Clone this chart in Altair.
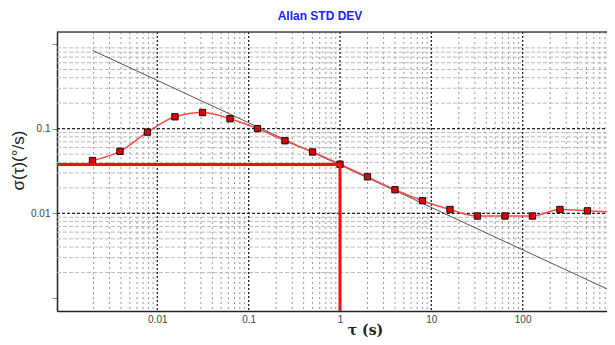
import altair as alt
import pandas as pd

# ---- data ----
tau = [0.00195, 0.0039, 0.0078, 0.0156, 0.03125, 0.0625, 0.125, 0.25, 0.5, 1,
       2, 4, 8, 16, 32, 64, 128, 256, 512, 1024]
sigma = [0.042, 0.054, 0.091, 0.138, 0.155, 0.131, 0.100, 0.072, 0.053, 0.038,
         0.027, 0.019, 0.0141, 0.0111, 0.0093, 0.0093, 0.0093, 0.0111, 0.0107, 0.0103]

arw_tau = [0.00195, 1024]
arw_sigma = [0.84, 0.00116]

cross_tau = 1.0
cross_sigma = 0.0378

x_major = [0.001, 0.01, 0.1, 1, 10, 100, 1000]
x_minor = [m * 10.0 ** e for e in range(-3, 3) for m in range(2, 10)]
y_major = [0.001, 0.01, 0.1, 1]
y_minor = [m * 10.0 ** e for e in range(-3, 0) for m in range(2, 10)]

W, H = 550, 279
XMIN, XMAX = 0.000797, 838.6
YMIN, YMAX = 0.000703, 1.384

xs = alt.Scale(type="log", domain=[XMIN, XMAX], nice=False)
ys = alt.Scale(type="log", domain=[YMIN, YMAX], nice=False)

xaxis = alt.Axis(values=x_major, grid=False, ticks=False,
                 labelExpr="datum.value < 0.005 ? '' : format(datum.value, '~g')",
                 labelFont="Liberation Sans", labelFontSize=10, labelColor="#444",
                 labelPadding=3, domainColor="#222", domainWidth=1.5,
                 title="τ (s)", titleFont="DejaVu Serif", titleFontSize=14,
                 titleFontWeight="bold", titleColor="#222", titleX=308, titleY=12)
yaxis = alt.Axis(values=y_major, grid=False, tickSize=5, tickColor="#888",
                 labelExpr="(datum.value > 0.005 && datum.value < 0.5) ? format(datum.value, '~g') : ''",
                 labelFont="Liberation Sans", labelFontSize=10, labelColor="#444",
                 labelPadding=2, domainColor="#222", domainWidth=1.5,
                 title="σ(τ)(°/s)", titleFont="Liberation Sans", titleFontSize=17,
                 titleFontWeight="normal", titleColor="#222",
                 titleX=-34, titleY=128, titleBaseline="alphabetic")

X = lambda f: alt.X(f, type="quantitative", scale=xs, axis=xaxis)
Y = lambda f: alt.Y(f, type="quantitative", scale=ys, axis=yaxis)

pts = pd.DataFrame({"tau": tau, "sigma": sigma})
arw = pd.DataFrame({"tau": arw_tau, "sigma": arw_sigma})

vmin = alt.Chart(pd.DataFrame({"tau": x_minor})).mark_rule(
    color="#999", strokeWidth=1, strokeDash=[2, 3]).encode(
    x=X("tau"), y=alt.value(0), y2=alt.value(H))
vmaj = alt.Chart(pd.DataFrame({"tau": x_major[1:6]})).mark_rule(
    color="#222", strokeWidth=1.3, strokeDash=[2, 2]).encode(
    x=X("tau"), y=alt.value(0), y2=alt.value(H))
hmin = alt.Chart(pd.DataFrame({"sigma": y_minor})).mark_rule(
    color="#bbb", strokeWidth=1, strokeDash=[4, 2]).encode(
    y=Y("sigma"), x=alt.value(0), x2=alt.value(W))
hmaj = alt.Chart(pd.DataFrame({"sigma": y_major[1:3]})).mark_rule(
    color="#222", strokeWidth=1.3, strokeDash=[3, 2]).encode(
    y=Y("sigma"), x=alt.value(0), x2=alt.value(W))

arw_line = alt.Chart(arw).mark_line(color="#555", strokeWidth=1).encode(
    x=X("tau"), y=Y("sigma"))
curve = alt.Chart(pts).mark_line(color="#ff4a4a", strokeWidth=1.5,
                                 interpolate="monotone").encode(
    x=X("tau"), y=Y("sigma"))
squares = alt.Chart(pts).mark_square(color="#e00000", stroke="#111", strokeWidth=1,
                                     opacity=1, size=40).encode(
    x=X("tau"), y=Y("sigma"))

hcross = alt.Chart(pd.DataFrame({"tau": [XMIN], "tau2": [cross_tau], "sigma": [cross_sigma]})).mark_rule(
    color="#ee1111", strokeWidth=3).encode(x=X("tau"), x2="tau2", y=Y("sigma"))
vcross = alt.Chart(pd.DataFrame({"tau": [cross_tau], "sigma": [YMIN], "sigma2": [cross_sigma]})).mark_rule(
    color="#ee1111", strokeWidth=3).encode(x=X("tau"), y=Y("sigma"), y2="sigma2")

top = alt.Chart(pd.DataFrame({"a": [0]})).mark_rule(color="#444", strokeWidth=1.5).encode(
    x=alt.value(0), x2=alt.value(W), y=alt.value(0))

chart = alt.layer(vmin, hmin, vmaj, hmaj, arw_line, curve, squares, hcross, vcross, top).properties(
    width=W, height=H,
    title=alt.Title("Allan STD DEV", color="#2222ff", fontSize=12, font="Liberation Sans",
                    fontWeight="bold", anchor="middle", dx=-12, offset=8),
    autosize=alt.AutoSizeParams(type="none"),
    padding={"left": 49, "top": 24, "right": 0, "bottom": 26},
).configure_view(strokeWidth=0).configure(background="white")

chart.save("out.html", embed_options={"renderer": "svg", "actions": False})
